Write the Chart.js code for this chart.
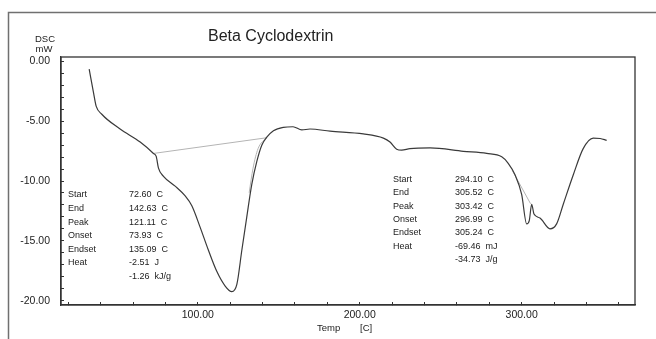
<!DOCTYPE html>
<html>
<head>
<meta charset="utf-8">
<script src="https://cdn.jsdelivr.net/npm/chart.js@4.4.0/dist/chart.umd.min.js"></script>
<style>
  html, body { margin: 0; padding: 0; background: #fff; }
  canvas { display: block; }
</style>
</head>
<body>
<canvas id="dsc" width="656" height="339"></canvas>
<script>
// DSC trace (temperature C, heat flow mW)
const tempC = [32.9, 35.6, 37.2, 40.7, 52.0, 64.4, 72.6, 74.3, 75.7, 78.8, 86.0, 92.2, 96.3,
  101.4, 106.5, 111.7, 116.9, 121.0, 124.1, 127.2, 130.2, 133.3, 136.4, 139.5, 142.6, 146.7,
  152.8, 158.8, 164.2, 169.3, 181.7, 202.2, 214.6, 218.7, 222.8, 225.9, 231.0, 243.4, 264.0,
  278.4, 287.7, 291.7, 295.9, 300.0, 303.1, 304.7, 306.2, 307.6, 311.3, 317.5, 321.6, 325.7,
  331.9, 338.0, 344.2, 348.5, 352.5];
const dscMW = [-0.66, -2.65, -3.75, -4.43, -5.66, -6.75, -7.70, -7.95, -8.93, -9.61, -10.43, -11.25, -12.07,
  -13.85, -15.76, -17.54, -18.77, -19.24, -18.63, -15.76, -13.03, -10.30, -8.39, -7.02, -6.34, -5.80,
  -5.52, -5.47, -5.74, -5.66, -5.84, -6.07, -6.42, -6.75, -7.35, -7.43, -7.30, -7.24, -7.52,
  -7.70, -7.98, -8.52, -9.48, -11.12, -13.58, -13.30, -11.94, -12.76, -13.09, -13.99, -13.58, -11.94,
  -9.48, -7.30, -6.42, -6.45, -6.61];

// integration baselines
const base1T = [72.6, 142.6];
const base1V = [-7.70, -6.39];
const tan1T = [131.7, 134.1, 137.2, 142.6];
const tan1V = [-10.98, -8.93, -7.30, -6.39];
const base2T = [294.1, 305.5];
const base2V = [-9.10, -11.90];

// axes
const xTicks = [20, 40, 60, 80, 100, 120, 140, 160, 180, 200, 220, 240, 260, 280, 300, 320, 340, 360];
const xLabelled = [100, 200, 300];
const yTicks = [0, -1, -2, -3, -4, -5, -6, -7, -8, -9, -10, -11, -12, -13, -14, -15, -16, -17, -18, -19, -20];
const yLabelled = [0, -5, -10, -15, -20];

// peak tables
const rowNames = ['Start', 'End', 'Peak', 'Onset', 'Endset', 'Heat', ''];
const peak1Rows = ['72.60  C', '142.63  C', '121.11  C', '73.93  C', '135.09  C', '-2.51  J', '-1.26  kJ/g'];
const peak2Rows = ['294.10  C', '305.52  C', '303.42  C', '296.99  C', '305.24  C', '-69.46  mJ', '-34.73  J/g'];

const FONT = 'Arial, "Liberation Sans", sans-serif';

function pts(xs, ys) {
  return xs.map((x, i) => ({ x: x, y: ys[i] }));
}

const annot = {
  id: 'annot',
  afterDraw(chart) {
    const c = chart.ctx;
    const a = chart.chartArea;
    c.save();
    // outer frame
    c.strokeStyle = '#707070';
    c.lineWidth = 1.5;
    c.strokeRect(8.5, 12.5, 700, 400);
    // plot box
    c.strokeStyle = '#333';
    c.lineWidth = 1.3;
    c.strokeRect(a.left, a.top, a.right - a.left, a.bottom - a.top);

    c.fillStyle = '#222';
    c.textBaseline = 'alphabetic';
    c.font = '16px ' + FONT;
    c.textAlign = 'left';
    c.fillText('Beta Cyclodextrin', 208, 40.5);

    c.font = '9.5px ' + FONT;
    c.textAlign = 'center';
    c.fillText('DSC', 45, 41.5);
    c.fillText('mW', 44, 51.5);
    c.textAlign = 'left';
    c.fillText('Temp', 317, 331);
    c.fillText('[C]', 360, 331);

    c.font = '9px ' + FONT;
    c.textBaseline = 'middle';
    rowNames.forEach((n, i) => {
      const y1 = 195 + i * 13.6;
      const y2 = 179.3 + i * 13.4;
      c.fillText(n, 68, y1);
      c.fillText(peak1Rows[i], 129, y1);
      c.fillText(n, 393, y2);
      c.fillText(peak2Rows[i], 455, y2);
    });
    c.restore();
  }
};

const ctx = document.getElementById('dsc').getContext('2d');
const chart = new Chart(ctx, {
  type: 'line',
  data: {
    datasets: [
      { label: 'DSC', data: pts(tempC, dscMW), borderColor: '#3a3a3a', borderWidth: 1.2, cubicInterpolationMode: 'monotone' },
      { label: 'base1', data: pts(base1T, base1V), borderColor: '#b4b4b4', borderWidth: 1 },
      { label: 'tan1', data: pts(tan1T, tan1V), borderColor: '#b4b4b4', borderWidth: 1, cubicInterpolationMode: 'monotone' },
      { label: 'base2', data: pts(base2T, base2V), borderColor: '#b4b4b4', borderWidth: 1 }
    ]
  },
  options: {
    responsive: false,
    animation: false,
    layout: { padding: { top: 57, right: 21, left: 0, bottom: 0 } },
    elements: { point: { radius: 0 } },
    plugins: { legend: { display: false }, tooltip: { enabled: false } },
    scales: {
      x: {
        type: 'linear',
        min: 15.5,
        max: 370,
        afterFit: s => { s.height = 34; },
        afterBuildTicks: s => { s.ticks = xTicks.map(v => ({ value: v })); },
        border: { display: true, color: '#333', width: 1.3 },
        grid: { drawOnChartArea: false, tickLength: -3, color: '#333' },
        ticks: {
          autoSkip: false,
          maxRotation: 0,
          padding: 7,
          color: '#222',
          font: { family: FONT, size: 10.5 },
          callback: v => xLabelled.includes(v) ? v.toFixed(2) : ''
        }
      },
      y: {
        min: -20.35,
        max: 0.35,
        afterFit: s => { s.width = 61; },
        afterBuildTicks: s => { s.ticks = yTicks.map(v => ({ value: v })); },
        border: { display: true, color: '#333', width: 1.3 },
        grid: { drawOnChartArea: false, tickLength: -3, color: '#333' },
        ticks: {
          autoSkip: false,
          padding: 14,
          color: '#222',
          font: { family: FONT, size: 10.5 },
          callback: v => yLabelled.includes(v) ? v.toFixed(2) : ''
        }
      }
    }
  },
  plugins: [annot]
});
</script>
</body>
</html>
